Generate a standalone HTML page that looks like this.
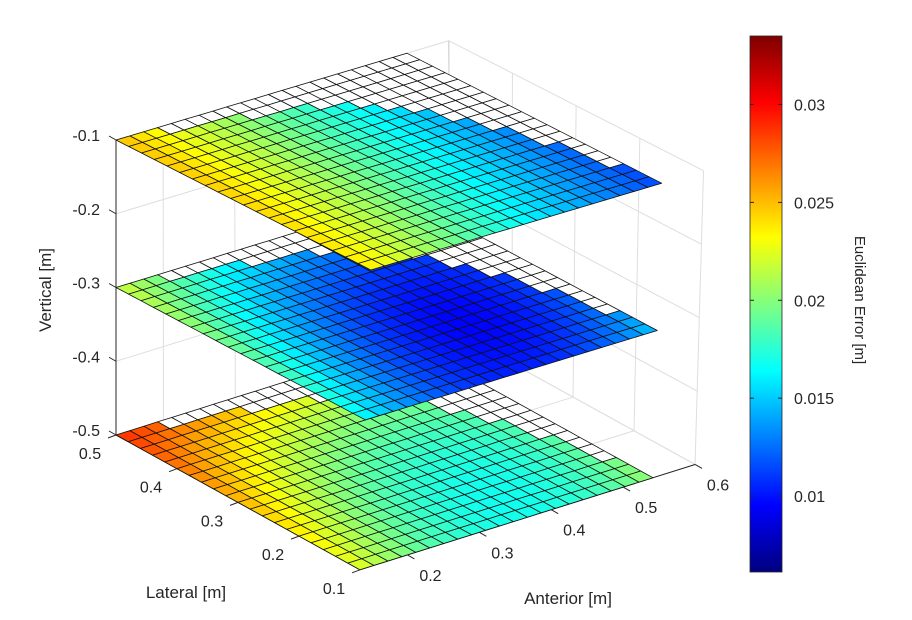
<!DOCTYPE html>
<html><head><meta charset="utf-8">
<style>
html,body{margin:0;padding:0;background:#fff;}
svg{display:block;font-family:"Liberation Sans",Arial,sans-serif;}
</style></head>
<body>
<svg id="chart" width="912" height="620" viewBox="0 0 912 620" xmlns="http://www.w3.org/2000/svg">
<g id="grid"></g>
<g id="axes"></g>
<g id="surfaces"></g>
<g id="ticks"></g>
<g id="cbar"></g>
<text x="0" y="0" transform="translate(51,290) rotate(-90)" text-anchor="middle" font-size="17" fill="#262626">Vertical [m]</text>
<text x="186" y="598" text-anchor="middle" font-size="17" fill="#262626">Lateral [m]</text>
<text x="568" y="604" text-anchor="middle" font-size="17" fill="#262626">Anterior [m]</text>
<text x="0" y="0" transform="translate(855,300) rotate(90)" text-anchor="middle" font-size="15" fill="#262626">Euclidean Error [m]</text>
</svg>
<script>
// ---- data ----
const layerZ = [-0.5, -0.3, -0.1];
// 3x3 sampled error values per layer: rows lat 0.5,0.3,0.1 ; cols anterior min, mid, max
const valuesBottom = [[0.029,0.0245,0.0215],[0.0255,0.0185,0.0195],[0.0225,0.017,0.0205]];
const valuesMiddle = [[0.022,0.0155,0.0145],[0.0195,0.0105,0.0125],[0.0165,0.0105,0.015]];
const valuesTop = [[0.025,0.0185,0.0135],[0.0245,0.018,0.012],[0.0238,0.0168,0.0115]];
// count of missing (NaN) rows at the back edge for each anterior column
const nanRows = [0,0,0,1,1,1,1,1,2,2,2,2,3,3,4,5,6,8,10,13,17];
const antStart = 0.134, antStep = 0.0194, nAnt = 21;
const latStart = 0.1, latStep = 0.02, nLat = 20;
const zTicks = [-0.1,-0.2,-0.3,-0.4,-0.5];
const latTicks = [0.1,0.2,0.3,0.4,0.5];
const antTicks = [0.2,0.3,0.4,0.5,0.6];
const cbTicks = [0.01,0.015,0.02,0.025,0.03];
const cMin = 0.00612, cMax = 0.0335;
const antMax = 0.6;

const NS = "http://www.w3.org/2000/svg";
function proj(a, l, z){
  const t = (z + 0.5) / 0.4;
  const lx = 610 + 27*t, ly = 337 - 12*t;
  const ax = 719 - 5*t, ay = -226 + 13*t;
  const x = 116 + (a-antStart)*ax + (0.5-l)*lx;
  const y = 435 - (z+0.5)*737.5 + (a-antStart)*ay + (0.5-l)*ly;
  return [x, y];
}
function jet(v){
  let t = (v - cMin)/(cMax - cMin); t = Math.max(0, Math.min(1, t));
  const c = k => Math.round(255*Math.max(0, Math.min(1, 1.5 - Math.abs(4*t - k))));
  return `rgb(${c(3)},${c(2)},${c(1)})`;
}
function lag(u, p){ // quadratic through u=0,0.5,1
  return p[0]*(u-0.5)*(u-1)/0.5 + p[1]*u*(1-u)/0.25 + p[2]*u*(u-0.5)/0.5;
}
function sample(g, ua, ul){ // ul: 0 at lat .5, 1 at lat .1
  const rows = g.map(r => lag(ua, r));
  return lag(ul, rows);
}
function line(parent, p1, p2, stroke, w, name){
  const e = document.createElementNS(NS, "line");
  e.setAttribute("x1", p1[0]); e.setAttribute("y1", p1[1]);
  e.setAttribute("x2", p2[0]); e.setAttribute("y2", p2[1]);
  e.setAttribute("stroke", stroke); e.setAttribute("stroke-width", w);
  
  
  parent.appendChild(e);
}
function text(parent, x, y, s, anchor, size, name){
  const e = document.createElementNS(NS, "text");
  e.setAttribute("x", x); e.setAttribute("y", y);
  e.setAttribute("text-anchor", anchor); e.setAttribute("font-size", size);
  e.setAttribute("fill", "#262626"); e.textContent = s;
  
  
  parent.appendChild(e);
}
// ---- grid ----
const G = document.getElementById("grid"), gc = "#dedede";
antTicks.forEach(a => {
  line(G, proj(a,0.1,-0.5), proj(a,0.5,-0.5), gc, 1, "floor-grid-anterior");
  line(G, proj(a,0.5,-0.5), proj(a,0.5,-0.1), gc, 1, "wall-grid-anterior");
});
latTicks.forEach(l => {
  line(G, proj(antStart,l,-0.5), proj(antMax,l,-0.5), gc, 1, "floor-grid-lateral");
  line(G, proj(antMax,l,-0.5), proj(antMax,l,-0.1), gc, 1, "wall-grid-lateral");
});
zTicks.forEach(z => {
  line(G, proj(antStart,0.5,z), proj(antMax,0.5,z), gc, 1, "wall-grid-vertical");
  line(G, proj(antMax,0.5,z), proj(antMax,0.1,z), gc, 1, "wall-grid-vertical");
});
line(G, proj(antMax,0.5,-0.5), proj(antMax,0.5,-0.1), "#d0d0d0", 1, "box-back-edge");
// ---- axes ----
const A = document.getElementById("axes"), ac = "#262626";
line(A, proj(antStart,0.5,-0.5), proj(antStart,0.5,-0.1), ac, 1, "z-axis-line");
line(A, proj(antStart,0.5,-0.5), proj(antStart,0.1,-0.5), ac, 1, "lateral-axis-line");
line(A, proj(antStart,0.1,-0.5), proj(antMax,0.1,-0.5), ac, 1, "anterior-axis-line");
// ---- surfaces ----
const S = document.getElementById("surfaces");
const layerVals = [valuesBottom, valuesMiddle, valuesTop];
layerZ.forEach((z, li) => {
  const g = document.createElementNS(NS, "g");
  
  
  S.appendChild(g);
  for (let r = 0; r < nLat; r++){ // r=0 back row (lat .5)
    for (let k = 0; k < nAnt; k++){
      const a0 = antStart + k*antStep, a1 = a0 + antStep;
      const l0 = 0.5 - r*latStep, l1 = l0 - latStep;
      const pts = [proj(a0,l0,z), proj(a1,l0,z), proj(a1,l1,z), proj(a0,l1,z)];
      const nan = r < nanRows[k];
      const v = sample(layerVals[li], (k+0.5)/nAnt, (r+0.5)/nLat);
      const p = document.createElementNS(NS, "polygon");
      p.setAttribute("points", pts.map(q => q[0].toFixed(1)+","+q[1].toFixed(1)).join(" "));
      p.setAttribute("fill", nan ? "#ffffff" : jet(v));
      p.setAttribute("stroke", "#111");
      p.setAttribute("stroke-width", "0.8");
      p.setAttribute("stroke-linejoin", "round");
      
      
      g.appendChild(p);
    }
  }
});
// ---- ticks ----
const T = document.getElementById("ticks");
zTicks.forEach(z => {
  const p = proj(antStart,0.5,z);
  line(T, p, [p[0]-7, p[1]-4], ac, 1, "z-tick");
  text(T, p[0]-16, p[1]+1, z.toFixed(1), "end", 16, "z-tick-label");
});
latTicks.forEach(l => {
  const p = proj(antStart,l,-0.5);
  line(T, p, [p[0]-8, p[1]+3], ac, 1, "lateral-tick");
  text(T, p[0]-26, p[1]+24, l.toFixed(1), "middle", 16, "lateral-tick-label");
});
antTicks.forEach(a => {
  const p = proj(a,0.1,-0.5);
  line(T, p, [p[0]+7, p[1]+4], ac, 1, "anterior-tick");
  text(T, p[0]+23, p[1]+26, a.toFixed(1), "middle", 16, "anterior-tick-label");
});
// ---- colorbar ----
const C = document.getElementById("cbar");
const cbX = 750, cbW = 32, cbTop = 36, cbBot = 572;
const cy = v => cbBot - (v - cMin)/(cMax - cMin)*(cbBot - cbTop);
const defs = document.createElementNS(NS, "defs");
const lg = document.createElementNS(NS, "linearGradient");
lg.setAttribute("id", "jetgrad"); lg.setAttribute("x1","0"); lg.setAttribute("y1","1"); lg.setAttribute("x2","0"); lg.setAttribute("y2","0");
for (let i = 0; i <= 32; i++){
  const st = document.createElementNS(NS, "stop");
  st.setAttribute("offset", i/32);
  st.setAttribute("stop-color", jet(cMin + (cMax-cMin)*i/32));
  lg.appendChild(st);
}
defs.appendChild(lg); C.appendChild(defs);
const rect = document.createElementNS(NS, "rect");
rect.setAttribute("x", cbX); rect.setAttribute("y", cbTop);
rect.setAttribute("width", cbW); rect.setAttribute("height", cbBot-cbTop);
rect.setAttribute("fill", "url(#jetgrad)"); rect.setAttribute("stroke", "#262626"); rect.setAttribute("stroke-width", "0.8");


C.appendChild(rect);
cbTicks.forEach(v => {
  const y = cy(v);
  line(C, [cbX+cbW-4, y], [cbX+cbW, y], ac, 1, "colorbar-tick");
  line(C, [cbX, y], [cbX+4, y], ac, 1, "colorbar-tick");
  text(C, cbX+cbW+12, y+6, String(v), "start", 16, "colorbar-tick-label");
});
</script>
</body></html>
